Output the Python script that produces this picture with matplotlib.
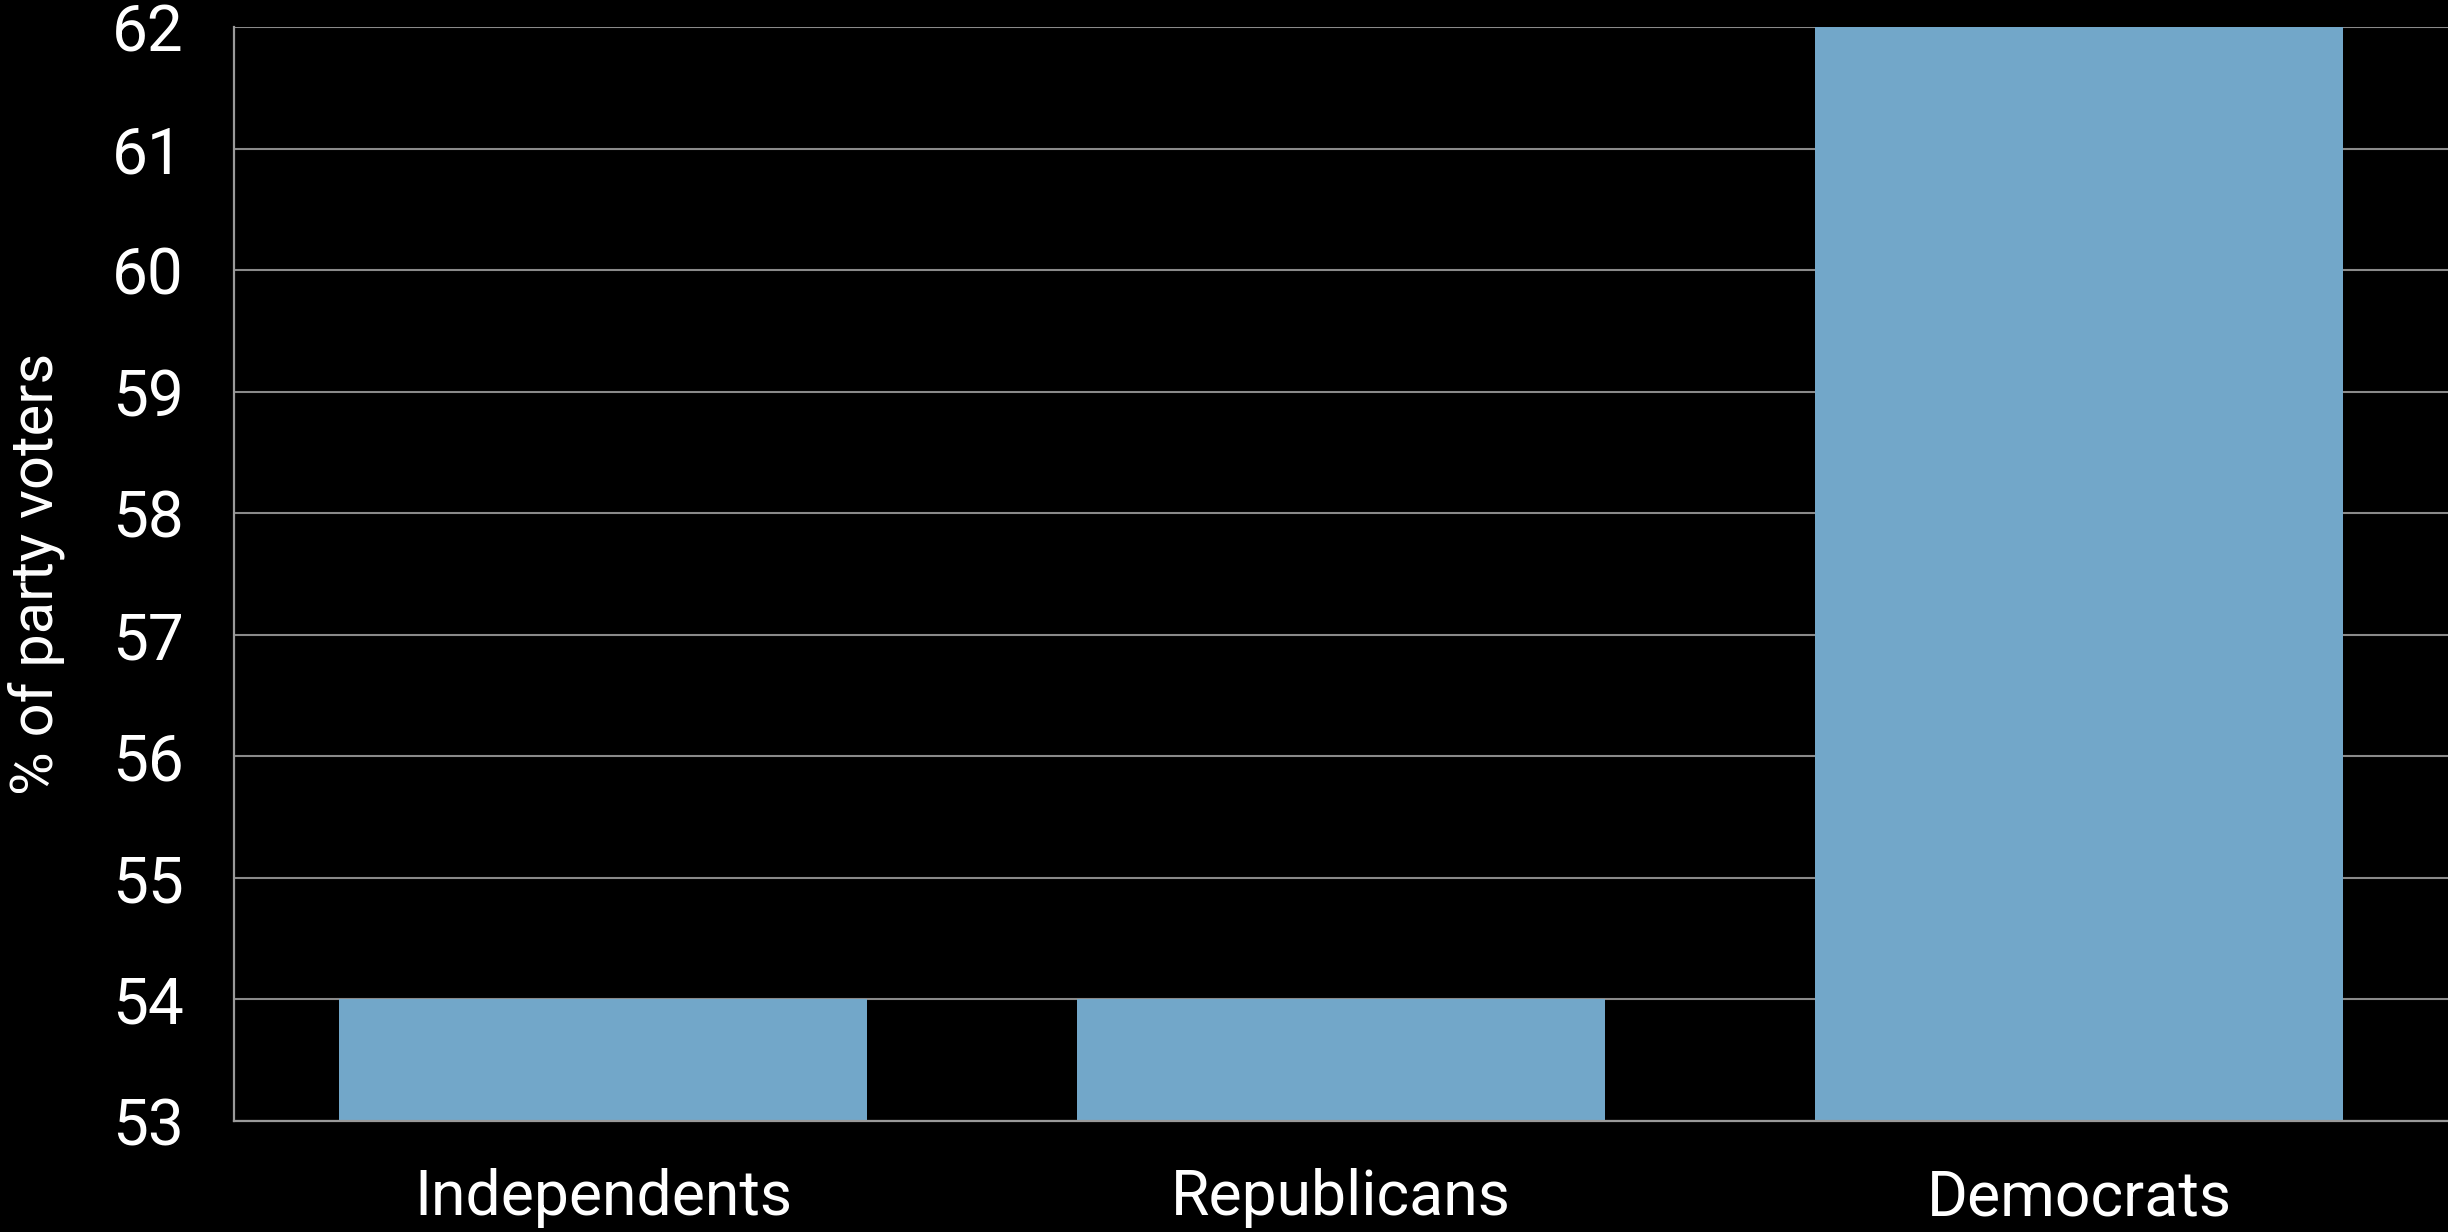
import matplotlib
matplotlib.use("Agg")
import matplotlib.pyplot as plt

categories = ["Independents", "Republicans", "Democrats"]
values = [54, 54, 62]
yticks = [53, 54, 55, 56, 57, 58, 59, 60, 61, 62]

plt.rcParams['font.family'] = ['Roboto', 'DejaVu Sans']

fig = plt.figure(figsize=(24.48, 12.32), dpi=100, facecolor='black')
ax = fig.add_axes([234/2448, 1 - 1121/1232, 1 - 234/2448, (1121 - 27)/1232])
ax.set_facecolor('black')

x = list(range(len(categories)))
ax.bar(x, [v - 53 for v in values], bottom=53, width=0.715, color='#72a7c9', zorder=3)

ax.set_xlim(-0.5, 2.5)
ax.set_ylim(53, 62)
ax.set_yticks(yticks)
ax.set_yticklabels([str(t) for t in yticks])
ax.set_xticks(x)
ax.set_xticklabels(categories)

ax.grid(axis='y', color='#8a8a8a', linewidth=1.5, zorder=1)
ax.set_axisbelow(True)
for s in ['top', 'right']:
    ax.spines[s].set_visible(False)
for s in ['left', 'bottom']:
    ax.spines[s].set_color('#9a9a9a')
    ax.spines[s].set_linewidth(1.6)
    ax.spines[s].set_zorder(4)

ax.tick_params(axis='both', length=0, colors='white')
ax.tick_params(axis='y', pad=36, labelsize=46)
ax.tick_params(axis='x', pad=34, labelsize=45)
ax.set_ylabel('% of party voters', color='white', fontsize=43, labelpad=34)

fig.savefig('out.png', dpi=100, facecolor='black')
